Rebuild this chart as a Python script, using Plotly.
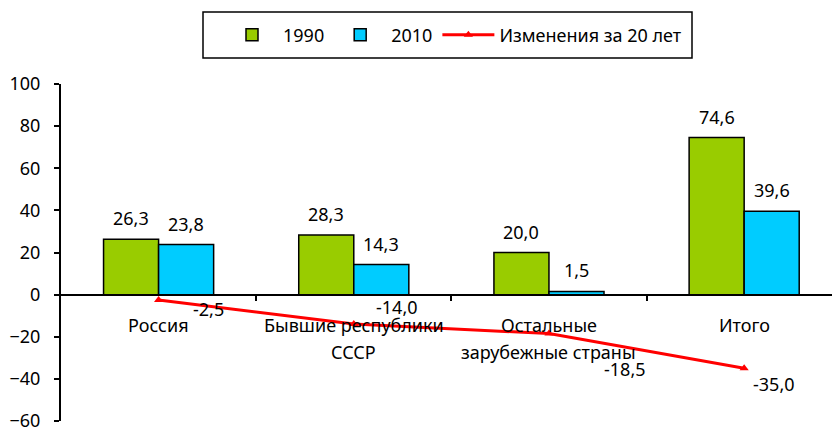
import plotly.graph_objects as go

categories = ["Россия", "Бывшие республики\nСССР", "Остальные\nзарубежные страны", "Итого"]
values_1990 = [26.3, 28.3, 20.0, 74.6]
values_2010 = [23.8, 14.3, 1.5, 39.6]
change_20y = [-2.5, -14.0, -18.5, -35.0]
series_names = ["1990", "2010", "Изменения за 20 лет"]
y_ticks = [-60, -40, -20, 0, 20, 40, 60, 80, 100]

# label offsets (px) for the change labels
change_label_offsets = [(50, -9), (43, 17), (76, -35), (30, -16)]

FONT = "Noto Sans"
FS = 18
W, H = 832, 429
ML, MR, MT, MB = 61, 0, 84, 8
BARGAP = 0.436

def fmt(v):
    return f"{v:.1f}".replace(".", ",")

x_idx = list(range(len(categories)))

fig = go.Figure()
fig.add_trace(go.Bar(
    x=x_idx, y=values_1990, name=series_names[0],
    marker=dict(color="#99CC00", line=dict(color="black", width=1.5)),
))
fig.add_trace(go.Bar(
    x=x_idx, y=values_2010, name=series_names[1],
    marker=dict(color="#00CCFF", line=dict(color="black", width=1.5)),
))
fig.add_trace(go.Scatter(
    x=x_idx, y=change_20y, name=series_names[2], mode="lines+markers",
    line=dict(color="#FF0000", width=3),
    marker=dict(symbol="triangle-up", size=8, color="#FF0000"),
    cliponaxis=False,
))

annotations = []
half = (1 - BARGAP) / 4
for vals, off in ((values_1990, -half), (values_2010, half)):
    for i, v in enumerate(vals):
        annotations.append(dict(x=i + off, y=v, xref="x", yref="y", text=fmt(v), showarrow=False,
                                yshift=21, font=dict(family=FONT, size=FS, color="black")))
for i, (v, (dx, dy)) in enumerate(zip(change_20y, change_label_offsets)):
    annotations.append(dict(x=i, y=v, xref="x", yref="y", text=fmt(v), showarrow=False,
                            xshift=dx, yshift=dy, font=dict(family=FONT, size=FS, color="black")))
for i, cat in enumerate(categories):
    for j, line in enumerate(cat.split("\n")):
        annotations.append(dict(x=i, y=0, xref="x", yref="y", text=line, showarrow=False,
                                yshift=-30 - 27 * j, font=dict(family=FONT, size=FS, color="black")))

# legend frame (pixel box converted to paper coordinates)
pw, ph = W - ML - MR, H - MT - MB
def px_x(px):
    return (px - ML) / pw
def px_y(py):
    return (H - MB - py) / ph

ymin, ymax = -60, 100
fig.update_layout(
    width=W, height=H,
    margin=dict(l=ML, r=MR, t=MT, b=MB, autoexpand=False),
    paper_bgcolor="white", plot_bgcolor="white",
    barmode="group", bargap=BARGAP, bargroupgap=0,
    font=dict(family=FONT, size=FS, color="black"),
    showlegend=True,
    legend=dict(orientation="h", x=454 / W, xanchor="center", xref="container",
                y=1 - 35 / H, yanchor="middle", yref="container", itemwidth=52,
                borderwidth=0, bgcolor="rgba(0,0,0,0)", font=dict(family=FONT, size=FS),
                traceorder="normal"),
    annotations=annotations,
    shapes=[dict(type="rect", xref="paper", yref="paper", x0=px_x(203), x1=px_x(692),
                 y0=px_y(58), y1=px_y(12), line=dict(color="black", width=1.5), layer="below")],
    xaxis=dict(type="linear", range=[-0.5, 3.45], showticklabels=False, showgrid=False,
               zeroline=False, showline=True, linecolor="black", linewidth=2,
               anchor="free", position=(0 - ymin) / (ymax - ymin), automargin=False,
               ticks="outside", tickvals=[0.5, 1.5, 2.5], ticklen=5, tickcolor="black", tickwidth=1.5),
    yaxis=dict(range=[ymin, ymax], tickvals=y_ticks, showgrid=False, zeroline=False, automargin=False,
               showline=True, linecolor="black", linewidth=2, ticks="outside", ticklen=5,
               ticklabelstandoff=10, ticklabeloverflow="allow",
               tickcolor="black", tickwidth=2, tickfont=dict(family=FONT, size=FS)),
)

fig.write_html("out.html", config={"displayModeBar": False},
               post_script="document.body.style.margin='0';")
